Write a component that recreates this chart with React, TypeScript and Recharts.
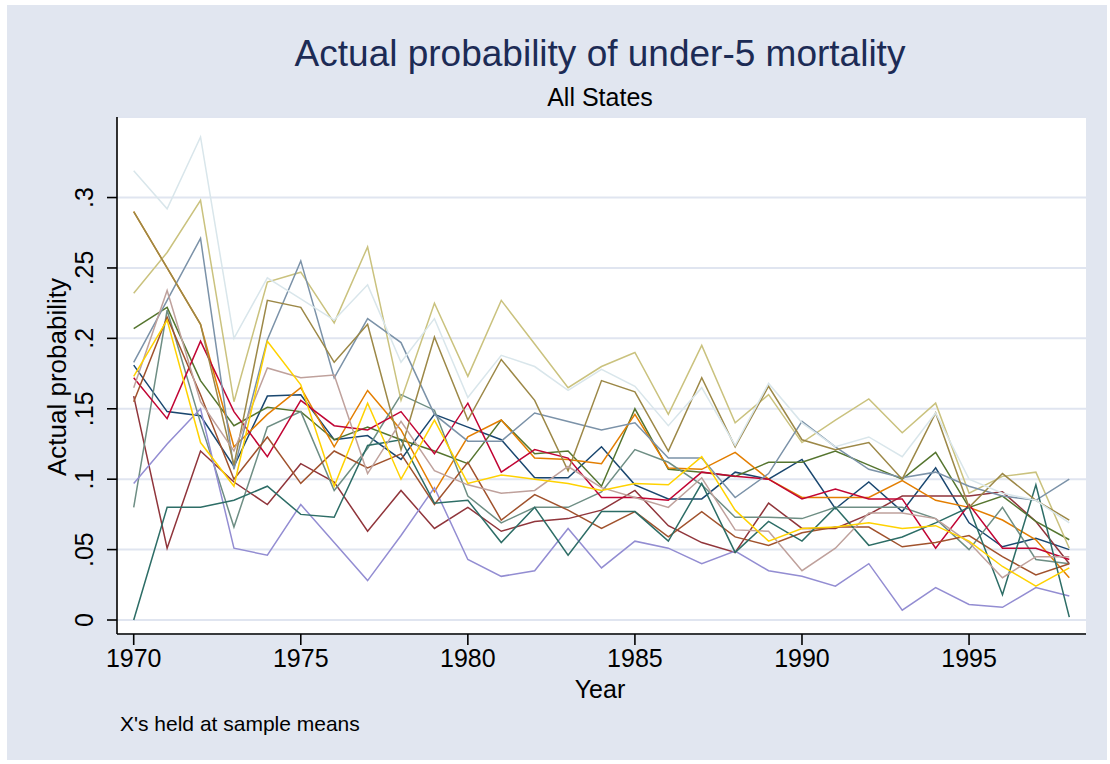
import React from "react";
import { LineChart, Line, XAxis, YAxis, CartesianGrid } from "recharts";

// years 1970..1998
const years = [
  1970, 1971, 1972, 1973, 1974, 1975, 1976, 1977, 1978, 1979, 1980, 1981, 1982, 1983, 1984,
  1985, 1986, 1987, 1988, 1989, 1990, 1991, 1992, 1993, 1994, 1995, 1996, 1997, 1998,
];

const navy = [.181,.148,.145,.109,.159,.16,.128,.131,.114,.146,.137,.128,.101,.101,.123,.096,.086,.086,.105,.1,.114,.079,.098,.077,.108,.069,.052,.058,.05];
const maroon = [.159,.051,.12,.098,.082,.111,.098,.063,.092,.065,.08,.063,.07,.072,.078,.092,.067,.055,.048,.083,.065,.065,.075,.088,.088,.088,.091,.07,.04];
const forestGreen = [.207,.222,.17,.138,.151,.148,.128,.137,.128,.12,.111,.142,.118,.12,.095,.15,.107,.105,.102,.112,.112,.12,.11,.1,.119,.08,.088,.07,.057];
const dkOrange = [.29,.25,.21,.123,.146,.165,.123,.163,.135,.091,.13,.142,.115,.114,.111,.146,.108,.107,.119,.1,.087,.087,.087,.099,.085,.08,.071,.057,.03];
const teal = [.08,.22,.14,.066,.137,.148,.092,.122,.16,.149,.088,.069,.08,.08,.091,.121,.112,.096,.073,.073,.072,.08,.08,.08,.072,.05,.08,.043,.04];
const cranberry = [.172,.143,.198,.148,.116,.156,.138,.135,.148,.118,.154,.105,.121,.115,.087,.087,.085,.105,.102,.1,.086,.093,.086,.086,.051,.082,.051,.051,.043];
const lavender = [.097,.125,.15,.051,.046,.082,.055,.028,.06,.094,.043,.031,.035,.065,.037,.056,.051,.04,.049,.035,.031,.024,.04,.007,.023,.011,.009,.023,.017];
const khaki = [.232,.261,.298,.155,.24,.247,.211,.265,.156,.225,.173,.227,.196,.165,.18,.19,.146,.195,.14,.16,.126,.142,.157,.133,.154,.09,.102,.105,.051];
const sienna = [.155,.215,.16,.1,.13,.097,.12,.108,.118,.082,.112,.071,.089,.078,.065,.077,.059,.077,.059,.053,.062,.066,.066,.052,.055,.06,.045,.032,.04];
const emidBlue = [.183,.227,.271,.107,.199,.255,.172,.214,.197,.146,.127,.127,.147,.141,.135,.14,.115,.115,.087,.104,.141,.123,.107,.101,.105,.095,.088,.085,.1];
const emerald = [0,.08,.08,.085,.095,.075,.073,.124,.128,.083,.085,.055,.08,.046,.077,.077,.056,.097,.048,.07,.056,.08,.053,.059,.069,.08,.018,.096,.002];
const brown = [.29,.25,.21,.11,.227,.222,.183,.21,.121,.201,.142,.185,.156,.106,.17,.162,.12,.172,.123,.166,.128,.121,.126,.1,.147,.08,.104,.085,.071];
const eRose = [.165,.234,.155,.12,.179,.172,.174,.104,.141,.106,.096,.09,.092,.109,.094,.087,.08,.101,.064,.063,.035,.051,.076,.076,.072,.055,.03,.045,.045];
const gold = [.173,.213,.126,.095,.198,.167,.095,.154,.1,.142,.097,.103,.1,.097,.092,.097,.096,.116,.078,.056,.065,.066,.069,.065,.067,.056,.038,.024,.037];
const bluishGray = [.319,.292,.343,.2,.243,.228,.213,.238,.183,.214,.158,.188,.18,.163,.178,.166,.138,.165,.124,.168,.14,.123,.13,.116,.147,.1,.09,.085,.069];

const xTicks = [1970, 1975, 1980, 1985, 1990, 1995];
const yTicks = [0, 0.05, 0.1, 0.15, 0.2, 0.25, 0.3];
const yTickLabels = ["0", ".05", ".1", ".15", ".2", ".25", ".3"];

// stata s2color order
const series = [
  { key: "navy", values: navy, color: "#1a476f" },
  { key: "maroon", values: maroon, color: "#90353b" },
  { key: "forestGreen", values: forestGreen, color: "#55752f" },
  { key: "dkOrange", values: dkOrange, color: "#e37e00" },
  { key: "teal", values: teal, color: "#6e8e84" },
  { key: "cranberry", values: cranberry, color: "#c10534" },
  { key: "lavender", values: lavender, color: "#938dd2" },
  { key: "khaki", values: khaki, color: "#cac27e" },
  { key: "sienna", values: sienna, color: "#a0522d" },
  { key: "emidBlue", values: emidBlue, color: "#7b92a8" },
  { key: "emerald", values: emerald, color: "#2d6d66" },
  { key: "brown", values: brown, color: "#9c8847" },
  { key: "eRose", values: eRose, color: "#bfa19c" },
  { key: "gold", values: gold, color: "#ffd200" },
  { key: "bluishGray", values: bluishGray, color: "#d9e6eb" },
];

const rows = years.map((year, i) => {
  const row: Record<string, number> = { year };
  series.forEach((s) => {
    row[s.key] = s.values[i];
  });
  return row;
});

const FONT = "'Liberation Sans', Arial, sans-serif";
const BG = "#e1e6f0";

const YTick = ({ x, y, payload }: any) => {
  const idx = yTicks.findIndex((t) => Math.abs(t - payload.value) < 1e-6);
  return (
    <text
      x={x - 12}
      y={y}
      transform={`rotate(-90 ${x - 12} ${y})`}
      textAnchor="middle"
      fontSize={25}
      fontFamily={FONT}
      fill="#000"
    >
      {idx >= 0 ? yTickLabels[idx] : payload.value}
    </text>
  );
};

const XTick = ({ x, y, payload }: any) => (
  <text x={x} y={y + 20} textAnchor="middle" fontSize={25} fontFamily={FONT} fill="#000">
    {payload.value}
  </text>
);

export default function App() {
  return (
    <div style={{ position: "absolute", left: 0, top: 0, width: 1110, height: 764, background: "#fff" }}>
      <div style={{ position: "absolute", left: 7, top: 5, width: 1100, height: 755, background: BG }} />
      <svg width={1110} height={764} style={{ position: "absolute", left: 0, top: 0 }}>
        <text x={600} y={66} textAnchor="middle" fontSize={37} fontFamily={FONT} fill="#1c2b55">
          Actual probability of under-5 mortality
        </text>
        <text x={600} y={106} textAnchor="middle" fontSize={25} fontFamily={FONT} fill="#000">
          All States
        </text>
        <text
          x={66}
          y={377}
          transform="rotate(-90 66 377)"
          textAnchor="middle"
          fontSize={26}
          fontFamily={FONT}
          fill="#000"
        >
          Actual probability
        </text>
        <text x={600} y={698} textAnchor="middle" fontSize={25} fontFamily={FONT} fill="#000">
          Year
        </text>
        <text x={120} y={731} fontSize={21} fontFamily={FONT} fill="#000">
          X's held at sample means
        </text>
      </svg>
      <div style={{ position: "absolute", left: 0, top: 0 }}>
        <LineChart
          width={1110}
          height={764}
          data={rows}
          margin={{ top: 117, right: 24, bottom: 70, left: 20 }}
        >
          <CartesianGrid vertical={false} horizontal fill="#fff" stroke="#e0e5f0" strokeWidth={2} />
          <XAxis
            dataKey="year"
            type="number"
            domain={[1969.5, 1998.5]}
            ticks={xTicks}
            height={60}
            tickSize={11}
            axisLine={{ stroke: "#000", strokeWidth: 1.6 }}
            tickLine={{ stroke: "#000", strokeWidth: 1.6 }}
            tick={<XTick />}
            allowDataOverflow
          />
          <YAxis
            type="number"
            domain={[-0.00994, 0.3572]}
            ticks={yTicks}
            width={97}
            tickSize={10}
            axisLine={{ stroke: "#000", strokeWidth: 1.6 }}
            tickLine={{ stroke: "#000", strokeWidth: 1.6 }}
            tick={<YTick />}
            allowDataOverflow
          />
          {series.map((s) => (
            <Line
              key={s.key}
              dataKey={s.key}
              stroke={s.color}
              strokeWidth={1.5}
              dot={false}
              type="linear"
              isAnimationActive={false}
            />
          ))}
        </LineChart>
      </div>
    </div>
  );
}
